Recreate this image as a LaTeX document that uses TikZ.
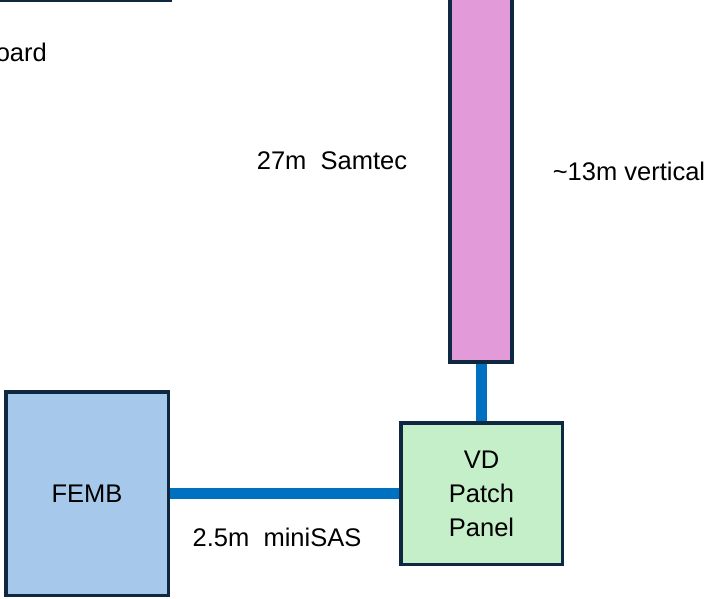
\documentclass[tikz,border=0pt]{standalone}
\usepackage{fontspec}
\setmainfont{Liberation Sans}
\definecolor{edge}{RGB}{14,40,65}
\definecolor{cable}{RGB}{0,112,192}
\definecolor{pinkfill}{RGB}{226,155,216}
\definecolor{greenfill}{RGB}{196,239,200}
\definecolor{bluefill}{RGB}{166,201,235}
\tikzset{
  blockbox/.style={draw=edge, line width=3.5pt, inner sep=0pt, align=center,
    font=\fontsize{25.5}{34}\selectfont},
  cableline/.style={draw=cable, line width=11pt},
  lbl/.style={inner sep=0pt, font=\fontsize{25.5}{30}\selectfont}
}
\begin{document}
\begin{tikzpicture}[x=1pt, y=-1pt]
\useasboundingbox (0,0) rectangle (721,599);
\clip (0,0) rectangle (721,599);
% cropped box at top-left
\node[blockbox, fill=white, minimum width=240pt, minimum height=120pt] (topbox) at (50,-59.5) {};
\node[lbl, anchor=east] (boardlbl) at (47,52) {board};
% vertical Samtec cable bar
\node[blockbox, fill=pinkfill, minimum width=62pt, minimum height=392pt] (bar) at (481,166) {};
% boxes
\node[blockbox, fill=bluefill, minimum width=162.5pt, minimum height=203.5pt] (femb) at (87,493.5) {FEMB};
\node[blockbox, fill=greenfill, minimum width=161.5pt, minimum height=141.5pt] (pp) at (481.5,493.5) {VD\\Patch\\Panel};
% cables
\draw[cableline] (bar.south) -- (bar.south |- pp.north);
\draw[cableline] (femb.east) -- (pp.west);
% labels
\node[lbl] (samtec) at (332,161) {27m\ \ Samtec};
\node[lbl] (vert) at (629,171) {\textasciitilde13m vertical};
\node[lbl] (minisas) at (277,537) {2.5m\ \ miniSAS};
\end{tikzpicture}
\end{document}
